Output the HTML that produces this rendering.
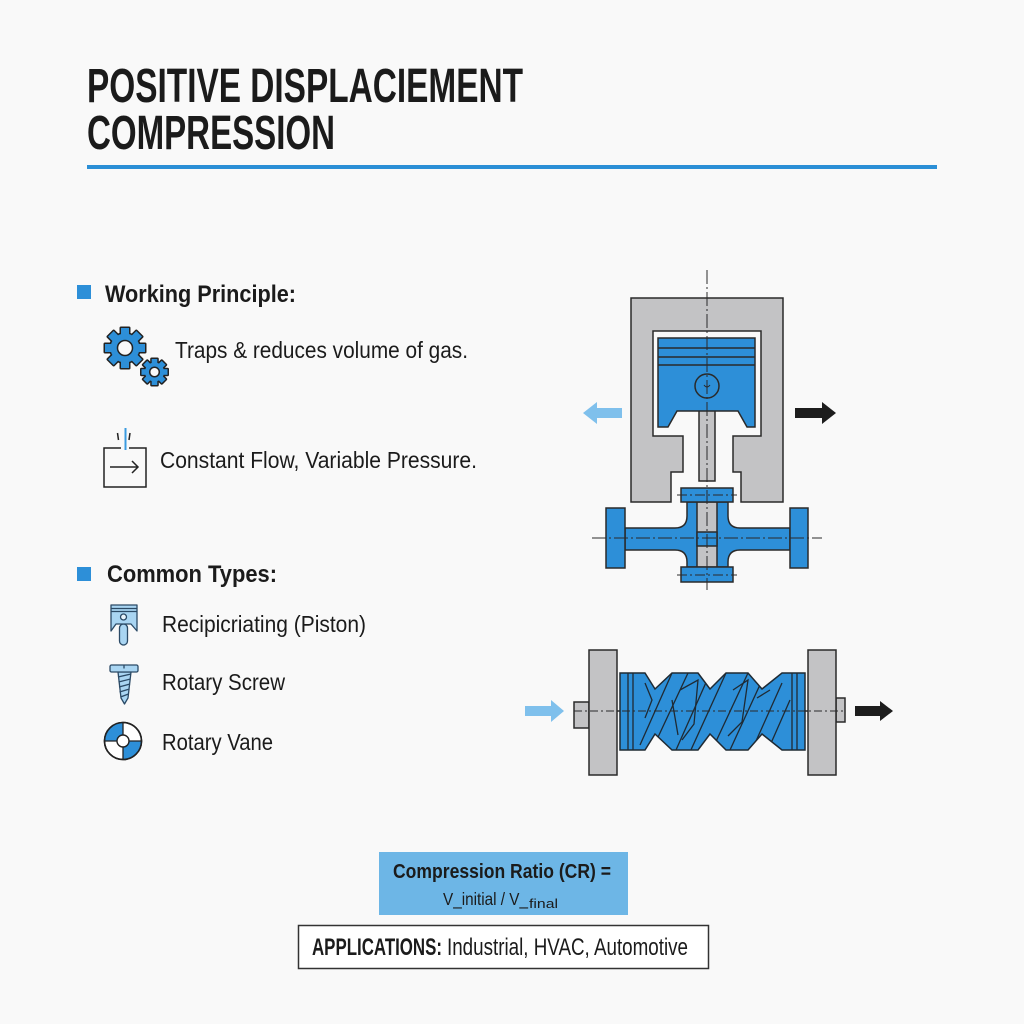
<!DOCTYPE html>
<html>
<head>
<meta charset="utf-8">
<style>
  html,body{margin:0;padding:0;background:#f9f9f9;}
  svg{display:block;}
  text{font-family:"Liberation Sans", "DejaVu Sans", sans-serif;fill:#1b1b1b;}
  .b{font-weight:bold;}
</style>
</head>
<body>
<svg width="1024" height="1024" viewBox="0 0 1024 1024" xmlns="http://www.w3.org/2000/svg">
  <rect x="0" y="0" width="1024" height="1024" fill="#f9f9f9"/>

  <!-- Title -->
  <text class="b" x="87" y="102" font-size="48" textLength="436" lengthAdjust="spacingAndGlyphs">POSITIVE DISPLACIEMENT</text>
  <text class="b" x="87" y="149" font-size="48" textLength="248" lengthAdjust="spacingAndGlyphs">COMPRESSION</text>
  <rect x="87" y="165" width="850" height="4" fill="#2b8fd6"/>

  <!-- Working principle -->
  <rect x="77" y="285" width="14" height="14" fill="#2d8fd8"/>
  <text class="b" x="105" y="302" font-size="24.5" textLength="191" lengthAdjust="spacingAndGlyphs">Working Principle:</text>

  <!-- Gears icon -->
  <g transform="translate(125,348)">
    <g fill="#222" stroke="#222" stroke-width="3" stroke-linejoin="round">
      <circle r="14.5"/>
      <rect x="-4" y="-20" width="8" height="9" transform="rotate(0)"/>
      <rect x="-4" y="-20" width="8" height="9" transform="rotate(45)"/>
      <rect x="-4" y="-20" width="8" height="9" transform="rotate(90)"/>
      <rect x="-4" y="-20" width="8" height="9" transform="rotate(135)"/>
      <rect x="-4" y="-20" width="8" height="9" transform="rotate(180)"/>
      <rect x="-4" y="-20" width="8" height="9" transform="rotate(225)"/>
      <rect x="-4" y="-20" width="8" height="9" transform="rotate(270)"/>
      <rect x="-4" y="-20" width="8" height="9" transform="rotate(315)"/>
    </g>
    <g fill="#2d8fd8">
      <circle r="14.5"/>
      <rect x="-4" y="-20" width="8" height="9" transform="rotate(0)"/>
      <rect x="-4" y="-20" width="8" height="9" transform="rotate(45)"/>
      <rect x="-4" y="-20" width="8" height="9" transform="rotate(90)"/>
      <rect x="-4" y="-20" width="8" height="9" transform="rotate(135)"/>
      <rect x="-4" y="-20" width="8" height="9" transform="rotate(180)"/>
      <rect x="-4" y="-20" width="8" height="9" transform="rotate(225)"/>
      <rect x="-4" y="-20" width="8" height="9" transform="rotate(270)"/>
      <rect x="-4" y="-20" width="8" height="9" transform="rotate(315)"/>
    </g>
    <circle r="7.5" fill="#f9f9f9" stroke="#222" stroke-width="1.5"/>
  </g>
  <g transform="translate(154.5,372)">
    <g fill="#222" stroke="#222" stroke-width="3" stroke-linejoin="round">
      <circle r="9.5"/>
      <rect x="-2.8" y="-13" width="5.6" height="6" transform="rotate(0)"/>
      <rect x="-2.8" y="-13" width="5.6" height="6" transform="rotate(45)"/>
      <rect x="-2.8" y="-13" width="5.6" height="6" transform="rotate(90)"/>
      <rect x="-2.8" y="-13" width="5.6" height="6" transform="rotate(135)"/>
      <rect x="-2.8" y="-13" width="5.6" height="6" transform="rotate(180)"/>
      <rect x="-2.8" y="-13" width="5.6" height="6" transform="rotate(225)"/>
      <rect x="-2.8" y="-13" width="5.6" height="6" transform="rotate(270)"/>
      <rect x="-2.8" y="-13" width="5.6" height="6" transform="rotate(315)"/>
    </g>
    <g fill="#2d8fd8">
      <circle r="9.5"/>
      <rect x="-2.8" y="-13" width="5.6" height="6" transform="rotate(0)"/>
      <rect x="-2.8" y="-13" width="5.6" height="6" transform="rotate(45)"/>
      <rect x="-2.8" y="-13" width="5.6" height="6" transform="rotate(90)"/>
      <rect x="-2.8" y="-13" width="5.6" height="6" transform="rotate(135)"/>
      <rect x="-2.8" y="-13" width="5.6" height="6" transform="rotate(180)"/>
      <rect x="-2.8" y="-13" width="5.6" height="6" transform="rotate(225)"/>
      <rect x="-2.8" y="-13" width="5.6" height="6" transform="rotate(270)"/>
      <rect x="-2.8" y="-13" width="5.6" height="6" transform="rotate(315)"/>
    </g>
    <circle r="4.8" fill="#f9f9f9" stroke="#222" stroke-width="1.5"/>
  </g>
  <text x="175" y="358" font-size="23.5" textLength="293" lengthAdjust="spacingAndGlyphs">Traps &amp; reduces volume of gas.</text>

  <!-- Flow icon -->
  <g fill="none" stroke="#222" stroke-width="1.5">
    <path d="M121 448 H104 V487 H146 V448 H129"/>
    <line x1="110" y1="467" x2="138" y2="467"/>
    <path d="M132 461 L138 467 L132 473"/>
    <line x1="117.5" y1="433" x2="118.5" y2="440"/>
    <line x1="130" y1="433" x2="129" y2="440"/>
  </g>
  <line x1="125.5" y1="428" x2="125.5" y2="450" stroke="#3a9be0" stroke-width="2"/>
  <text x="160" y="468" font-size="23.5" textLength="317" lengthAdjust="spacingAndGlyphs">Constant Flow, Variable Pressure.</text>

  <!-- Common types -->
  <rect x="77" y="567" width="14" height="14" fill="#2d8fd8"/>
  <text class="b" x="107" y="582" font-size="24.5" textLength="170" lengthAdjust="spacingAndGlyphs">Common Types:</text>

  <!-- piston icon -->
  <g stroke="#2b4a66" stroke-width="1.3" fill="#a9d5f2" stroke-linejoin="round">
    <rect x="119.5" y="624" width="8" height="21" rx="4"/>
    <path d="M111 605 H137 V631 L131 624 H116 L111 631 Z"/>
    <line x1="111" y1="608.5" x2="137" y2="608.5"/>
    <line x1="111" y1="611.5" x2="137" y2="611.5"/>
    <circle cx="123.5" cy="617" r="3" fill="#e8f4fc"/>
  </g>
  <text x="162" y="632" font-size="23.5" textLength="204" lengthAdjust="spacingAndGlyphs">Recipicriating (Piston)</text>

  <!-- screw icon -->
  <g stroke="#2b4a66" stroke-width="1.3" fill="#a9d5f2" stroke-linejoin="round">
    <path d="M118 672 H131 L128 698 L124.5 704 L121 698 Z"/>
    <rect x="110" y="665" width="28" height="7" rx="1.5"/>
    <line x1="124" y1="665" x2="124" y2="668.5"/>
    <line x1="118" y1="677" x2="131" y2="674"/>
    <line x1="118.5" y1="682" x2="130.5" y2="679"/>
    <line x1="119" y1="687" x2="130" y2="684"/>
    <line x1="119.5" y1="692" x2="129.5" y2="689"/>
    <line x1="120.5" y1="697" x2="128.5" y2="694"/>
  </g>
  <text x="162" y="690" font-size="23.5" textLength="123" lengthAdjust="spacingAndGlyphs">Rotary Screw</text>

  <!-- vane icon -->
  <g>
    <circle cx="123" cy="741" r="18.5" fill="#ffffff" stroke="#222" stroke-width="1.6"/>
    <path d="M123 741 L123 722.5 A18.5 18.5 0 0 0 104.5 741 Z" fill="#2d8fd8"/>
    <path d="M123 741 L123 759.5 A18.5 18.5 0 0 0 141.5 741 Z" fill="#2d8fd8"/>
    <circle cx="123" cy="741" r="18.5" fill="none" stroke="#222" stroke-width="1.6"/>
    <line x1="104.5" y1="741" x2="141.5" y2="741" stroke="#222" stroke-width="1.3"/>
    <line x1="123" y1="722.5" x2="123" y2="759.5" stroke="#222" stroke-width="1.3"/>
    <circle cx="123" cy="741" r="6" fill="#ffffff" stroke="#222" stroke-width="1.4"/>
  </g>
  <text x="162" y="750" font-size="23.5" textLength="111" lengthAdjust="spacingAndGlyphs">Rotary Vane</text>

  <!-- Piston diagram -->
  <g stroke="#2a2a2a" stroke-width="1.5" stroke-linejoin="miter">
    <path d="M631 298 H783 V502 H741 V472 H733 V436 H761 V331 H653 V436 H683 V472 H671 V502 H631 Z" fill="#c3c3c5"/>
    <rect x="699" y="405" width="16" height="76" fill="#c3c3c5"/>
    <path d="M658 338 H755 V427 H747 L738 411 H677 L668 427 H658 Z" fill="#2d8fd8"/>
    <line x1="658" y1="348" x2="755" y2="348"/>
    <line x1="658" y1="357" x2="755" y2="357"/>
    <line x1="658" y1="365" x2="755" y2="365"/>
    <circle cx="707" cy="386" r="12" fill="#2d8fd8"/>

    <!-- lower cross -->
    <path d="M625 528 H675 Q687 528 687 516 V502 H728 V516 Q728 528 740 528 H790 V550 H740 Q728 550 728 562 V567 H687 V562 Q687 550 675 550 H625 Z" fill="#2d8fd8"/>
    <rect x="606" y="508" width="19" height="60" fill="#2d8fd8"/>
    <rect x="790" y="508" width="18" height="60" fill="#2d8fd8"/>
    <rect x="697" y="502" width="20" height="65" fill="#c3c3c5"/>
    <rect x="697" y="532" width="20" height="14" fill="#2d8fd8"/>
    <rect x="681" y="488" width="52" height="14" fill="#2d8fd8"/>
    <rect x="681" y="567" width="52" height="15" fill="#2d8fd8"/>
  </g>
  <g stroke="#2a2a2a" stroke-width="1" fill="none">
    <line x1="707" y1="270" x2="707" y2="590" stroke-dasharray="14 3 2 3"/>
    <line x1="592" y1="538" x2="822" y2="538" stroke-dasharray="14 3 2 3"/>
    <line x1="677" y1="495" x2="737" y2="495" stroke-dasharray="10 3 2 3"/>
    <line x1="677" y1="575" x2="737" y2="575" stroke-dasharray="10 3 2 3"/>
    <path d="M704 385 Q707 389 710 385"/>
  </g>
  <!-- piston arrows -->
  <path d="M583 413 L597 402 V408 H622 V418 H597 V424 Z" fill="#7fc0ec"/>
  <path d="M836 413 L822 402 V408 H795 V418 H822 V424 Z" fill="#1d1d1d"/>

  <!-- Screw diagram -->
  <defs>
    <clipPath id="rot">
      <path d="M620 673 H645 L655 689 L672 673 H698 L710 689 L726 673 H748 L762 689 L782 673 H805 V750 H782 L762 734 L748 750 H726 L710 734 L698 750 H672 L655 734 L645 750 H620 Z"/>
    </clipPath>
  </defs>
  <g stroke="#2a2a2a" stroke-width="1.5">
    <rect x="574" y="702" width="15" height="26" fill="#c3c3c5"/>
    <rect x="836" y="698" width="9" height="24" fill="#c3c3c5"/>
    <rect x="589" y="650" width="28" height="125" fill="#c3c3c5"/>
    <rect x="808" y="650" width="28" height="125" fill="#c3c3c5"/>
    <line x1="617" y1="711" x2="620" y2="711"/>
    <line x1="805" y1="711" x2="808" y2="711"/>
  </g>
  <path d="M620 673 H645 L655 689 L672 673 H698 L710 689 L726 673 H748 L762 689 L782 673 H805 V750 H782 L762 734 L748 750 H726 L710 734 L698 750 H672 L655 734 L645 750 H620 Z" fill="#2d8fd8"/>
  <g clip-path="url(#rot)" stroke="#1f2a33" stroke-width="1.3" fill="none">
    <line x1="628" y1="673" x2="628" y2="750"/>
    <line x1="633" y1="673" x2="633" y2="750"/>
    <line x1="792" y1="673" x2="792" y2="750"/>
    <line x1="797" y1="673" x2="797" y2="750"/>
    <line x1="640" y1="745" x2="672" y2="673"/>
    <line x1="652" y1="750" x2="688" y2="673"/>
    <line x1="676" y1="750" x2="708" y2="678"/>
    <line x1="690" y1="752" x2="726" y2="673"/>
    <line x1="712" y1="750" x2="748" y2="673"/>
    <line x1="730" y1="750" x2="764" y2="676"/>
    <line x1="752" y1="750" x2="782" y2="683"/>
    <line x1="768" y1="750" x2="790" y2="700"/>
    <path d="M645 683 L652 700 L645 718"/>
    <path d="M680 690 L698 680 L694 724 L682 740"/>
    <path d="M733 690 L748 680 L742 722 L728 736"/>
    <path d="M672 700 L678 735"/>
    <path d="M757 698 L770 690"/>
  </g>
  <path d="M620 673 H645 L655 689 L672 673 H698 L710 689 L726 673 H748 L762 689 L782 673 H805 V750 H782 L762 734 L748 750 H726 L710 734 L698 750 H672 L655 734 L645 750 H620 Z" fill="none" stroke="#1f2a33" stroke-width="1.5"/>
  <line x1="574" y1="711" x2="845" y2="711" stroke="#2a2a2a" stroke-width="0.9" stroke-dasharray="8 3 2 3"/>
  <!-- screw arrows -->
  <path d="M564 711 L551 700 V706 H525 V716 H551 V722 Z" fill="#7fc0ec"/>
  <path d="M893 711 L880 701 V706 H855 V716 H880 V721 Z" fill="#1d1d1d"/>

  <!-- Compression ratio box -->
  <rect x="379" y="852" width="249" height="63" fill="#6db6e6"/>
  <text class="b" x="393" y="878" font-size="20.5" textLength="218" lengthAdjust="spacingAndGlyphs">Compression Ratio (CR) =</text>
  <text x="443" y="905" font-size="17.5" textLength="85" lengthAdjust="spacingAndGlyphs">V_initial / V_</text>
  <text x="529" y="908" font-size="13" textLength="29" lengthAdjust="spacingAndGlyphs">final</text>

  <!-- Applications box -->
  <rect x="298.5" y="925.5" width="410" height="43" fill="#ffffff" stroke="#333" stroke-width="1.5"/>
  <text class="b" x="312" y="955" font-size="24" textLength="130" lengthAdjust="spacingAndGlyphs">APPLICATIONS:</text>
  <text x="447" y="955" font-size="24" textLength="241" lengthAdjust="spacingAndGlyphs">Industrial, HVAC, Automotive</text>
</svg>
</body>
</html>
